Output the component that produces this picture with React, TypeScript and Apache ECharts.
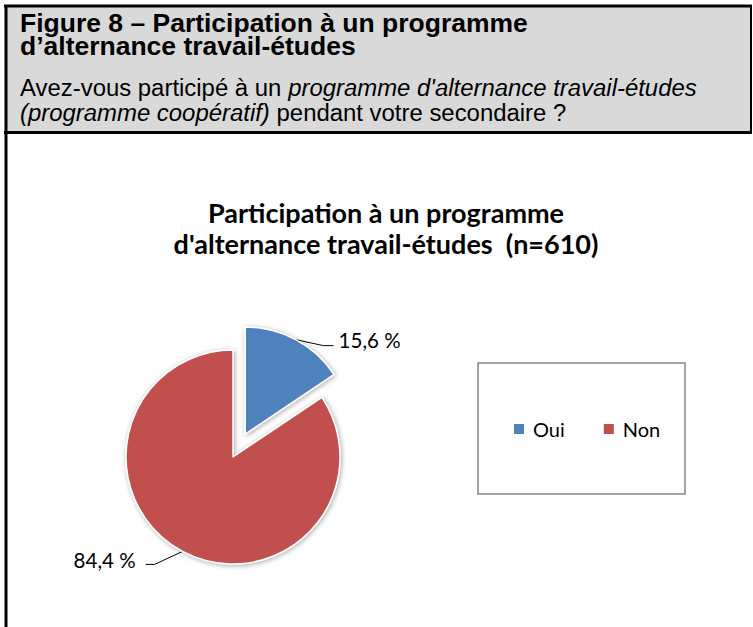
import React, { useEffect, useRef } from "react";
import * as echarts from "echarts";

const categories = ["Oui", "Non"];
const values = [15.6, 84.4];
const colors = ["#4F81BD", "#C0504D"];
const explodedIndex = 0;
const chartTitle = "Participation à un programme\nd'alternance travail-études  (n=610)";
const headerLine1 = "Figure 8 – Participation à un programme";
const headerLine2 = "d’alternance travail-études";
const headerLine3 = "{n|Avez-vous participé à un }{i|programme d'alternance travail-études}";
const headerLine4 = "{i|(programme coopératif)}{n| pendant votre secondaire ?}";

const W = 753;
const H = 627;

export default function App() {
  const ref = useRef<HTMLDivElement>(null);
  useEffect(() => {
    if (!ref.current) return;
    const chart = echarts.init(ref.current, null, { renderer: "svg", width: W, height: H });
    const headFont = "'Liberation Sans', Arial, sans-serif";
    const chartFont = "Lato, 'Noto Sans', sans-serif";

    const pieCenter = [233, 457];
    const explodeDist = 26;
    const total = values.reduce((a, b) => a + b, 0);
    const before = values.slice(0, explodedIndex).reduce((a, b) => a + b, 0);
    const midAngle = ((before + values[explodedIndex] / 2) / total) * 2 * Math.PI;
    const explodedCenter = [
      pieCenter[0] + explodeDist * Math.sin(midAngle),
      pieCenter[1] - explodeDist * Math.cos(midAngle),
    ];

    const labelLayout = (params: any) => {
      const pts = params.labelLinePoints;
      if (!pts || pts.length < 2) return {};
      const s = pts[0];
      const right = pts[1][0] >= s[0];
      const dir = right ? 1 : -1;
      const dy = right ? 6 : 13;
      const seg2 = right ? 10 : 9;
      const gap = right ? 5 : 10;
      const p1 = [s[0] + dir * 28, s[1] + dy];
      const p2 = [p1[0] + dir * seg2, p1[1]];
      return {
        x: p2[0] + dir * gap,
        y: p2[1] + (right ? 5 : 6),
        align: right ? "left" : "right",
        verticalAlign: "bottom",
        labelLinePoints: [s, p1, p2],
      };
    };

    const baseSeries = (showIdx: (i: number) => boolean, center: number[]) => ({
      type: "pie",
      center,
      radius: 107,
      startAngle: 90,
      clockwise: true,
      silent: true,
      avoidLabelOverlap: false,
      data: categories.map((c, i) => ({
        name: c,
        value: values[i],
        itemStyle: showIdx(i) ? { color: colors[i] } : { color: colors[i], opacity: 0 },
        label: { show: showIdx(i) },
        labelLine: { show: showIdx(i) },
      })),
      itemStyle: {
        borderColor: "#ffffff",
        borderWidth: 1.5,
        shadowBlur: 5,
        shadowColor: "rgba(0,0,0,0.35)",
        shadowOffsetX: 1,
        shadowOffsetY: 1,
      },
      label: {
        position: "outside",
        fontFamily: chartFont,
        fontSize: 20.5,
        color: "#000",
        formatter: (p: any) => p.value.toFixed(1).replace(".", ",") + " %",
      },
      labelLine: {
        length: 12,
        length2: 10,
        lineStyle: { color: "#000", width: 1 },
      },
      labelLayout,
      emphasis: { disabled: true },
    });

    const option: any = {
      animation: false,
      backgroundColor: "#ffffff",
      title: {
        text: chartTitle,
        left: 386,
        top: 197,
        textAlign: "center",
        padding: 0,
        textStyle: {
          fontFamily: chartFont,
          fontWeight: "bold",
          fontSize: 27,
          lineHeight: 31,
          color: "#000",
        },
      },
      legend: {
        data: categories.map((c, i) => ({ name: c, itemStyle: { color: colors[i], opacity: 1 } })),
        left: 512,
        top: 419,
        padding: 0,
        orient: "horizontal",
        itemWidth: 12,
        itemHeight: 12,
        itemGap: 37,
        icon: "rect",
        selectedMode: false,
        textStyle: { fontFamily: chartFont, fontSize: 20, color: "#000", padding: [0, 0, 0, 3] },
      },
      graphic: [
        { type: "rect", silent: true, shape: { x: 6, y: 6, width: 745, height: 126 }, style: { fill: "#D9D9D9" }, z: -10 },
        { type: "line", silent: true, shape: { x1: 4, y1: 6, x2: 752, y2: 6 }, style: { stroke: "#000", lineWidth: 3 } },
        { type: "line", silent: true, shape: { x1: 6, y1: 5, x2: 6, y2: 627 }, style: { stroke: "#000", lineWidth: 3 } },
        { type: "line", silent: true, shape: { x1: 751, y1: 5, x2: 751, y2: 134 }, style: { stroke: "#000", lineWidth: 2 } },
        { type: "line", silent: true, shape: { x1: 4, y1: 132.5, x2: 752, y2: 132.5 }, style: { stroke: "#000", lineWidth: 3 } },
        {
          type: "text", x: 20, y: 23, scaleX: 1.06,
          style: { text: headerLine1, fontFamily: headFont, fontWeight: "bold", fontSize: 25, fill: "#000", verticalAlign: "middle", align: "left" },
        },
        {
          type: "text", x: 20, y: 46, scaleX: 1.06,
          style: { text: headerLine2, fontFamily: headFont, fontWeight: "bold", fontSize: 25, fill: "#000", verticalAlign: "middle", align: "left" },
        },
        {
          type: "text", x: 20, y: 88, scaleX: 1.04,
          style: {
            text: headerLine3, fontFamily: headFont, fontSize: 23, fill: "#000", verticalAlign: "middle", align: "left",
            rich: {
              n: { fontFamily: headFont, fontSize: 23, fill: "#000" },
              i: { fontFamily: headFont, fontSize: 23, fontStyle: "italic", fill: "#000" },
            },
          },
        },
        {
          type: "text", x: 20, y: 113, scaleX: 1.04,
          style: {
            text: headerLine4, fontFamily: headFont, fontSize: 23, fill: "#000", verticalAlign: "middle", align: "left",
            rich: {
              n: { fontFamily: headFont, fontSize: 23, fill: "#000" },
              i: { fontFamily: headFont, fontSize: 23, fontStyle: "italic", fill: "#000" },
            },
          },
        },
        { type: "rect", silent: true, shape: { x: 478, y: 363, width: 207, height: 131 }, style: { fill: "none", stroke: "#868686", lineWidth: 1.5 } },
      ],
      series: [
        baseSeries((i) => i !== explodedIndex, pieCenter),
        baseSeries((i) => i === explodedIndex, explodedCenter),
      ],
    };
    chart.setOption(option);
    return () => chart.dispose();
  }, []);
  return <div ref={ref} style={{ position: "absolute", left: 0, top: 0, width: W, height: H }} />;
}
